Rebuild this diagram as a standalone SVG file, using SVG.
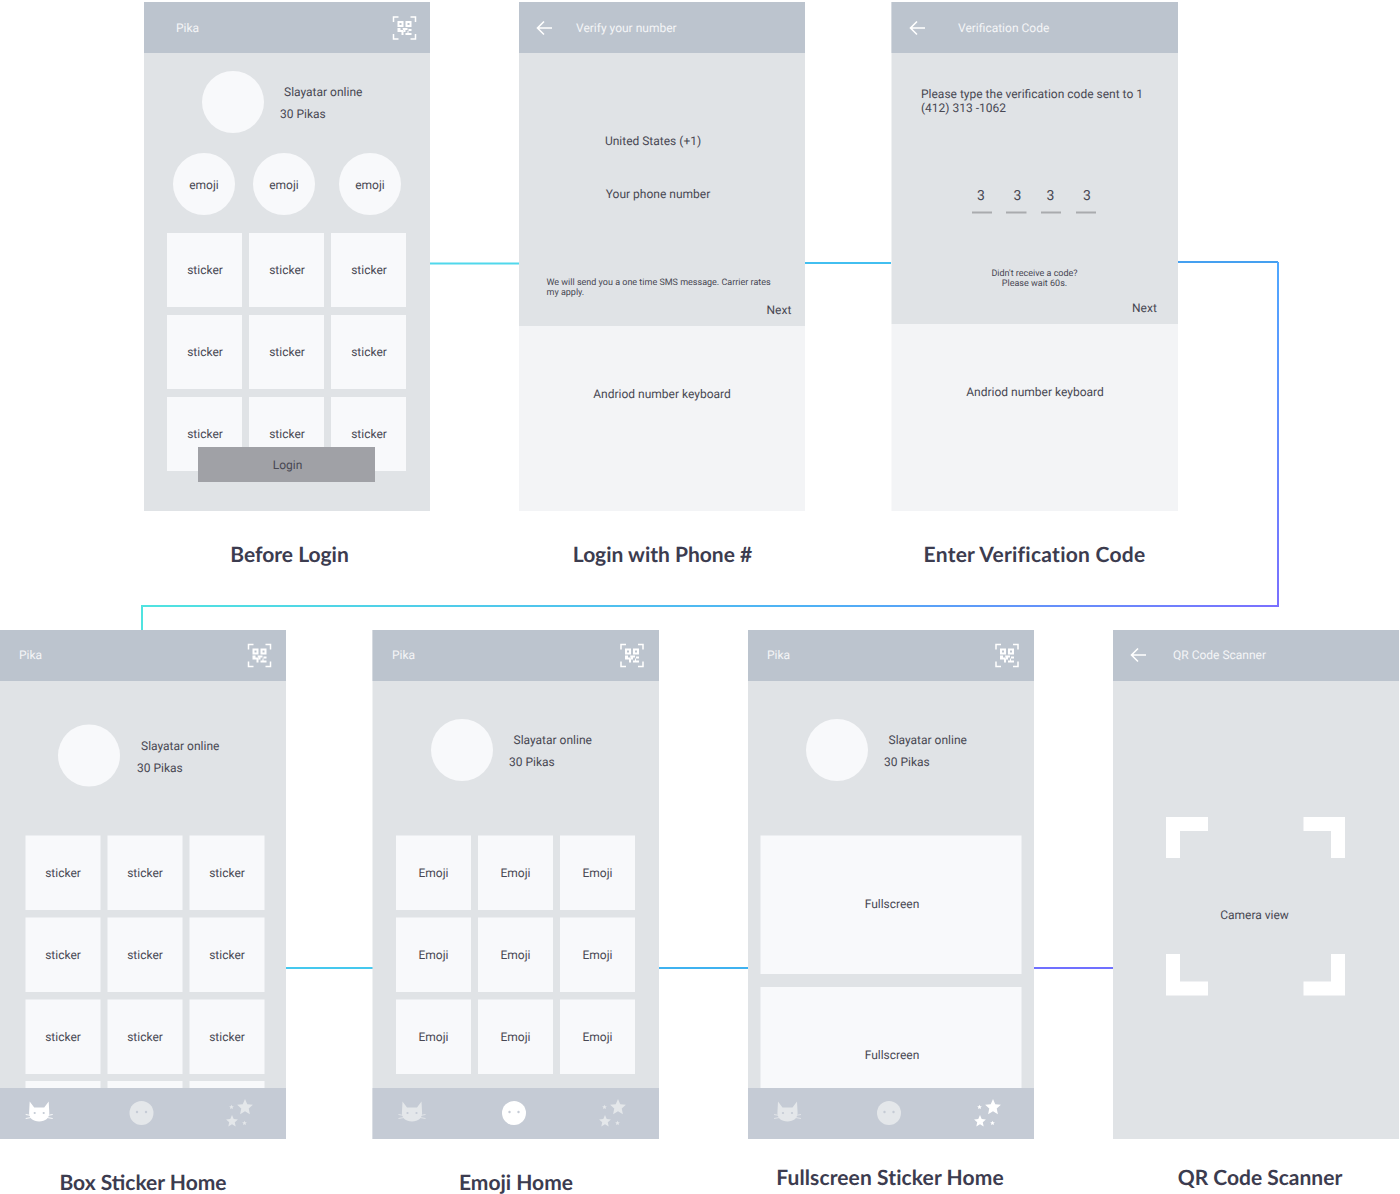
<svg xmlns="http://www.w3.org/2000/svg" xmlns:xlink="http://www.w3.org/1999/xlink" width="1400" height="1194" viewBox="0 0 1400 1194">
<style>
text{font-family:Roboto,"Liberation Sans",sans-serif;font-size:12px;fill:#484853;text-rendering:geometricPrecision}
.m{text-anchor:middle}
.hd{fill:#bcc4ce}
.bg{fill:#e0e3e6}
.card{fill:#f8f9fb}
.kb{fill:#f3f4f6}
.bar{fill:#c5cbd5}
.ht{fill:#f4f5f7}
.s{font-size:9px}
.t{font-family:Lato,"Liberation Sans",sans-serif;font-size:21px;font-weight:700;fill:#3c3c4f;text-anchor:middle}
.cn{fill:none;stroke-width:2}
.dim{fill:#e4e7ea;stroke:#e4e7ea}
.dimf{fill:#e4e7ea}
.on{fill:#fff;stroke:#fff}
.onf{fill:#fff}
.wh{fill:none;stroke-width:.9}
.bd{stroke:none}
.eye{fill:#c5cbd5;stroke:none}
</style>
<defs>
<linearGradient id="g1" gradientUnits="userSpaceOnUse" x1="142" y1="0" x2="1278" y2="0"><stop offset="0" stop-color="#50e3e0"/><stop offset="0.6" stop-color="#4fb0f5"/><stop offset="1" stop-color="#7a70ff"/></linearGradient>
<linearGradient id="g2" gradientUnits="userSpaceOnUse" x1="0" y1="262" x2="0" y2="606"><stop offset="0" stop-color="#4fa8ff"/><stop offset="1" stop-color="#7a70ff"/></linearGradient>
<g id="qr">
<path d="M0 5V0H5M17 0H22V5M22 17V22H17M5 22H0V17" fill="none" stroke="#fff" stroke-width="1.500"/>
<path d="M4 4h6v6H4zM6 6v2h2V6zM12 4h6v6h-6zM14 6v2h2V6zM4 11h3v2h3v5H8v-3H4zM9 11h5v2h-2v2h-2zM15 12h3v2h-3zM12 16h2v-2h1v2h3v2h-6z" fill="#fff" fill-rule="evenodd"/>
</g>
<path id="back" d="M16 8H1.500M8 1.500L1.500 8L8 14.500" fill="none" stroke="#fff" stroke-width="1.600"/>
<g id="cat">
<path class="bd" d="M-9.500 -10.500L-5 -4.500H5L9.500 -10.500L10 -1C11 6 6 9.500 0 9.500C-6 9.500 -11 6 -10 -1Z"/>
<path class="wh" d="M-13.500 2.500L-8 3.500M-13.500 6.500L-8 5.500M13.500 2.500L8 3.500M13.500 6.500L8 5.500"/>
<circle class="eye" cx="-4.500" cy="1" r="1.100"/><circle class="eye" cx="4.500" cy="1" r="1.100"/>
</g>
<path id="star" d="M0 -6.600L1.900 -2.200L6.600 -1.800L3.100 1.300L4.100 6L0 3.500L-4.100 6L-3.100 1.300L-6.600 -1.800L-1.900 -2.200Z"/>
<g id="stars"><use xlink:href="#star" transform="translate(5,-5) scale(1.200)"/><use xlink:href="#star" transform="translate(-8,9) scale(0.900)"/><use xlink:href="#star" transform="translate(-8.500,-5) scale(0.350)"/><use xlink:href="#star" transform="translate(4.500,11) scale(0.350)"/></g>
</defs>

<g id="connectors">
<path class="cn" stroke="#50d8ec" d="M430 263.500H519"/>
<path class="cn" stroke="#42bff0" d="M805 263H891"/>
<path class="cn" stroke="#45a0f0" d="M1178 262H1278"/>
<path class="cn" stroke="url(#g2)" d="M1278 262V606.500"/>
<path class="cn" stroke="url(#g1)" d="M1279 606H142V630"/>
<path class="cn" stroke="#45c8ee" d="M286 968H373"/>
<path class="cn" stroke="#3fb2f0" d="M659 968H748"/>
<path class="cn" stroke="#7070ff" d="M1034 968H1113"/>
</g>

<g id="before-login">
<rect class="bg" x="144" y="2" width="286" height="509"/>
<rect class="hd" x="144" y="2" width="286" height="51"/>
<text class="ht" x="176" y="32">Pika</text>
<use xlink:href="#qr" x="393.500" y="17"/>
<circle class="card" cx="233" cy="102" r="31"/>
<text x="284" y="96">Slayatar online</text>
<text x="280" y="118">30 Pikas</text>
<circle class="card" cx="204" cy="184" r="31"/><text class="m" x="204" y="189">emoji</text>
<circle class="card" cx="284" cy="184" r="31"/><text class="m" x="284" y="189">emoji</text>
<circle class="card" cx="370" cy="184" r="31"/><text class="m" x="370" y="189">emoji</text>
<rect class="card" x="167" y="233" width="75" height="74"/><text class="m" x="205" y="274">sticker</text>
<rect class="card" x="249" y="233" width="75" height="74"/><text class="m" x="287" y="274">sticker</text>
<rect class="card" x="331" y="233" width="75" height="74"/><text class="m" x="369" y="274">sticker</text>
<rect class="card" x="167" y="315" width="75" height="74"/><text class="m" x="205" y="356">sticker</text>
<rect class="card" x="249" y="315" width="75" height="74"/><text class="m" x="287" y="356">sticker</text>
<rect class="card" x="331" y="315" width="75" height="74"/><text class="m" x="369" y="356">sticker</text>
<rect class="card" x="167" y="397" width="75" height="74"/><text class="m" x="205" y="438">sticker</text>
<rect class="card" x="249" y="397" width="75" height="74"/><text class="m" x="287" y="438">sticker</text>
<rect class="card" x="331" y="397" width="75" height="74"/><text class="m" x="369" y="438">sticker</text>
<rect x="198" y="447" width="177" height="35" fill="#a0a1a6"/>
<text class="m" x="287.500" y="469">Login</text>
<text class="t" x="289.500" y="562">Before Login</text>
</g>

<g id="login-phone">
<rect class="bg" x="519" y="2" width="286" height="324"/>
<rect class="kb" x="519" y="326" width="286" height="185"/>
<rect class="hd" x="519" y="2" width="286" height="51"/>
<use xlink:href="#back" x="536" y="20"/>
<text class="ht" x="576" y="32">Verify your number</text>
<text class="m" x="653" y="145">United States (+1)</text>
<text class="m" x="658" y="198">Your phone number</text>
<text class="s" x="546.500" y="285">We will send you a one time SMS message. Carrier rates</text>
<text class="s" x="546.500" y="295">my apply.</text>
<text x="766.500" y="314">Next</text>
<text class="m" x="662" y="398">Andriod number keyboard</text>
<text class="t" x="662.500" y="562">Login with Phone #</text>
</g>

<g id="verification">
<rect class="bg" x="891.500" y="2" width="286.500" height="322"/>
<rect class="kb" x="891.500" y="324" width="286.500" height="187"/>
<rect class="hd" x="891.500" y="2" width="286.500" height="51"/>
<use xlink:href="#back" x="909" y="20"/>
<text class="ht" x="958" y="32">Verification Code</text>
<text x="921" y="98">Please type the verification code sent to 1</text>
<text x="921" y="112">(412) 313 -1062</text>
<text class="m" x="981" y="200" style="font-size:14px">3</text>
<text class="m" x="1017.500" y="200" style="font-size:14px">3</text>
<text class="m" x="1050.500" y="200" style="font-size:14px">3</text>
<text class="m" x="1087" y="200" style="font-size:14px">3</text>
<rect x="972" y="211.500" width="20" height="2" fill="#a9abae"/>
<rect x="1006" y="211.500" width="20.500" height="2" fill="#a9abae"/>
<rect x="1041" y="211.500" width="20" height="2" fill="#a9abae"/>
<rect x="1076" y="211.500" width="20" height="2" fill="#a9abae"/>
<text class="m s" x="1034.500" y="276">Didn't receive a code?</text>
<text class="m s" x="1034.500" y="286">Please wait 60s.</text>
<text x="1132" y="312">Next</text>
<text class="m" x="1035" y="396">Andriod number keyboard</text>
<text class="t" x="1034.500" y="562" style="letter-spacing:.25px">Enter Verification Code</text>
</g>

<g id="box-sticker-home">
<rect class="bg" x="0" y="630" width="286" height="509"/>
<rect class="hd" x="0" y="630" width="286" height="51"/>
<text class="ht" x="19" y="659">Pika</text>
<use xlink:href="#qr" x="248.500" y="644.500"/>
<circle class="card" cx="89" cy="755.500" r="31"/>
<text x="141" y="750">Slayatar online</text>
<text x="137" y="772">30 Pikas</text>
<rect class="card" x="25.500" y="835.500" width="75" height="74.500"/><text class="m" x="63" y="877">sticker</text>
<rect class="card" x="107.500" y="835.500" width="75" height="74.500"/><text class="m" x="145" y="877">sticker</text>
<rect class="card" x="189.500" y="835.500" width="75" height="74.500"/><text class="m" x="227" y="877">sticker</text>
<rect class="card" x="25.500" y="917.500" width="75" height="74.500"/><text class="m" x="63" y="959">sticker</text>
<rect class="card" x="107.500" y="917.500" width="75" height="74.500"/><text class="m" x="145" y="959">sticker</text>
<rect class="card" x="189.500" y="917.500" width="75" height="74.500"/><text class="m" x="227" y="959">sticker</text>
<rect class="card" x="25.500" y="999.500" width="75" height="74.500"/><text class="m" x="63" y="1041">sticker</text>
<rect class="card" x="107.500" y="999.500" width="75" height="74.500"/><text class="m" x="145" y="1041">sticker</text>
<rect class="card" x="189.500" y="999.500" width="75" height="74.500"/><text class="m" x="227" y="1041">sticker</text>
<rect class="card" x="25.500" y="1081" width="75" height="8"/>
<rect class="card" x="107.500" y="1081" width="75" height="8"/>
<rect class="card" x="189.500" y="1081" width="75" height="8"/>
<rect class="bar" x="0" y="1088" width="286" height="51"/>
<use xlink:href="#cat" x="39.200" y="1112" class="on"/>
<circle class="dimf" cx="141.500" cy="1113" r="12"/>
<circle class="bar" cx="137" cy="1112" r="1.200"/><circle class="bar" cx="146" cy="1112" r="1.200"/>
<use xlink:href="#stars" x="240" y="1112" class="dimf"/>
<text class="t" x="143" y="1190">Box Sticker Home</text>
</g>

<g id="emoji-home">
<rect class="bg" x="372.500" y="630" width="286.500" height="509"/>
<rect class="hd" x="372.500" y="630" width="286.500" height="51"/>
<text class="ht" x="392" y="659">Pika</text>
<use xlink:href="#qr" x="621" y="644.500"/>
<circle class="card" cx="462" cy="750" r="31"/>
<text x="513.500" y="744">Slayatar online</text>
<text x="509" y="766">30 Pikas</text>
<rect class="card" x="396" y="835.500" width="75" height="74.500"/><text class="m" x="433.500" y="877">Emoji</text>
<rect class="card" x="478" y="835.500" width="75" height="74.500"/><text class="m" x="515.500" y="877">Emoji</text>
<rect class="card" x="560" y="835.500" width="75" height="74.500"/><text class="m" x="597.500" y="877">Emoji</text>
<rect class="card" x="396" y="917.500" width="75" height="74.500"/><text class="m" x="433.500" y="959">Emoji</text>
<rect class="card" x="478" y="917.500" width="75" height="74.500"/><text class="m" x="515.500" y="959">Emoji</text>
<rect class="card" x="560" y="917.500" width="75" height="74.500"/><text class="m" x="597.500" y="959">Emoji</text>
<rect class="card" x="396" y="999.500" width="75" height="74.500"/><text class="m" x="433.500" y="1041">Emoji</text>
<rect class="card" x="478" y="999.500" width="75" height="74.500"/><text class="m" x="515.500" y="1041">Emoji</text>
<rect class="card" x="560" y="999.500" width="75" height="74.500"/><text class="m" x="597.500" y="1041">Emoji</text>
<rect class="bar" x="372.500" y="1088" width="286.500" height="51"/>
<use xlink:href="#cat" x="412" y="1112" class="dim"/>
<circle class="onf" cx="514" cy="1113" r="12"/>
<circle class="bar" cx="509.500" cy="1112" r="1.200"/><circle class="bar" cx="518.500" cy="1112" r="1.200"/>
<use xlink:href="#stars" x="613" y="1112" class="dimf"/>
<text class="t" x="516" y="1190">Emoji Home</text>
</g>

<g id="fullscreen-home">
<rect class="bg" x="748" y="630" width="286" height="509"/>
<rect class="hd" x="748" y="630" width="286" height="51"/>
<text class="ht" x="767" y="659">Pika</text>
<use xlink:href="#qr" x="996" y="644.500"/>
<circle class="card" cx="837" cy="750" r="31"/>
<text x="888.500" y="744">Slayatar online</text>
<text x="884" y="766">30 Pikas</text>
<rect class="card" x="760.500" y="835.500" width="261" height="138.500"/>
<text class="m" x="892" y="908">Fullscreen</text>
<rect class="card" x="760.500" y="987" width="261" height="102"/>
<text class="m" x="892" y="1059">Fullscreen</text>
<rect class="bar" x="748" y="1088" width="286" height="51"/>
<use xlink:href="#cat" x="787.500" y="1112" class="dim"/>
<circle class="dimf" cx="889" cy="1113" r="12"/>
<circle class="bar" cx="884.500" cy="1112" r="1.200"/><circle class="bar" cx="893.500" cy="1112" r="1.200"/>
<use xlink:href="#stars" x="988" y="1112" class="onf"/>
<text class="t" x="890" y="1185" style="letter-spacing:.1px">Fullscreen Sticker Home</text>
</g>

<g id="qr-scanner">
<rect class="bg" x="1113" y="630" width="286" height="509"/>
<rect class="hd" x="1113" y="630" width="286" height="51"/>
<use xlink:href="#back" x="1130" y="647"/>
<text class="ht" x="1173" y="659">QR Code Scanner</text>
<path class="onf" d="M1166 817H1208V831H1180V858H1166ZM1345 817H1303.500V831H1331V858H1345ZM1166 995.500H1208V981.500H1180V954H1166ZM1345 995.500H1303.500V981.500H1331V954H1345Z"/>
<text class="m" x="1254.500" y="919">Camera view</text>
<text class="t" x="1260" y="1185">QR Code Scanner</text>
</g>
</svg>
